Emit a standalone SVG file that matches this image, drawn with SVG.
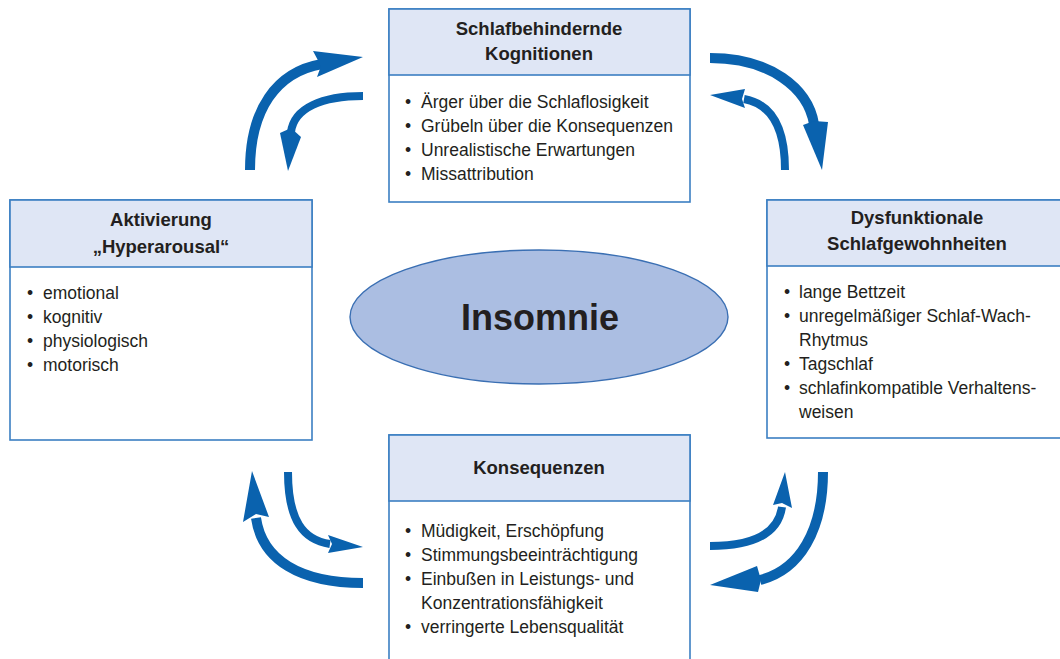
<svg xmlns="http://www.w3.org/2000/svg" width="1060" height="659" viewBox="0 0 1060 659">
<style>
.box{fill:#ffffff;stroke:#3b7fc2;stroke-width:1.6}
.hdr{fill:#dfe6f5;stroke:#3b7fc2;stroke-width:1.6}
.h{font-family:"Liberation Sans",Arial,sans-serif;font-weight:bold;font-size:18.5px;fill:#231f20;text-anchor:middle}
.t{font-family:"Liberation Sans",Arial,sans-serif;font-size:17.5px;fill:#231f20}
.shaft{fill:none;stroke:#0a62ae;stroke-width:10}
.shaft2{fill:none;stroke:#0a62ae;stroke-width:8}
.head{fill:#0a62ae}
</style>
<rect width="1060" height="659" fill="#ffffff"/>

<g id="connectors">
  <!-- top-left outer -->
  <path class="shaft" d="M 250 170 C 250 110 276 72 322 64"/>
  <polygon class="head" points="313,51 363,57 317,77 321,66"/>
  <!-- top-left inner -->
  <path class="shaft2" d="M 363 96 C 322 96 294 108 291 132"/>
  <polygon class="head" points="280,133 291,128 301,137 288,171"/>
  <!-- top-right outer -->
  <path class="shaft" d="M 710 58 C 770 58 808 88 814 124"/>
  <polygon class="head" points="803,125 814,121 828,122 822,170"/>
  <!-- top-right inner -->
  <path class="shaft2" d="M 785 170 C 785 128 772 104 744 99"/>
  <polygon class="head" points="710,95 745,89 742,99 745,108"/>
  <!-- bottom-left outer -->
  <path class="shaft" d="M 363 583 C 300 583 262 560 256 518"/>
  <polygon class="head" points="252,471 269,517 256,514 243,522"/>
  <!-- bottom-left inner -->
  <path class="shaft2" d="M 288 472 C 288 520 303 540 330 544"/>
  <polygon class="head" points="328,535 363,547 328,553 332,544"/>
  <!-- bottom-right outer -->
  <path class="shaft" d="M 823 472 C 823 530 800 570 760 580"/>
  <polygon class="head" points="757,566 761,580 758,592 710,585"/>
  <!-- bottom-right inner -->
  <path class="shaft2" d="M 710 546 C 750 546 778 535 782 507"/>
  <polygon class="head" points="785,472 792,508 782,503 773,505"/>
</g>

<g id="node-top">
  <rect class="box" x="389" y="9" width="301" height="193"/>
  <rect class="hdr" x="389" y="9" width="301" height="66"/>
  <text class="h" x="539" y="35">Schlafbehindernde</text>
  <text class="h" x="539" y="60">Kognitionen</text>
  <text class="t" x="405" y="108">•</text><text class="t" x="421" y="108">Ärger über die Schlaflosigkeit</text>
  <text class="t" x="405" y="132">•</text><text class="t" x="421" y="132">Grübeln über die Konsequenzen</text>
  <text class="t" x="405" y="156">•</text><text class="t" x="421" y="156">Unrealistische Erwartungen</text>
  <text class="t" x="405" y="180">•</text><text class="t" x="421" y="180">Missattribution</text>
</g>

<g id="node-left">
  <rect class="box" x="10" y="200" width="302" height="240"/>
  <rect class="hdr" x="10" y="200" width="302" height="67"/>
  <text class="h" x="161" y="226">Aktivierung</text>
  <text class="h" x="161" y="253">„Hyperarousal“</text>
  <text class="t" x="27" y="299">•</text><text class="t" x="43" y="299">emotional</text>
  <text class="t" x="27" y="323">•</text><text class="t" x="43" y="323">kognitiv</text>
  <text class="t" x="27" y="347">•</text><text class="t" x="43" y="347">physiologisch</text>
  <text class="t" x="27" y="371">•</text><text class="t" x="43" y="371">motorisch</text>
</g>

<g id="node-right">
  <rect class="box" x="767" y="200" width="310" height="238"/>
  <rect class="hdr" x="767" y="200" width="310" height="66"/>
  <text class="h" x="917" y="224">Dysfunktionale</text>
  <text class="h" x="917" y="250">Schlafgewohnheiten</text>
  <text class="t" x="784" y="298">•</text><text class="t" x="799" y="298">lange Bettzeit</text>
  <text class="t" x="784" y="322">•</text><text class="t" x="799" y="322">unregelmäßiger Schlaf-Wach-</text>
  <text class="t" x="799" y="346">Rhytmus</text>
  <text class="t" x="784" y="370">•</text><text class="t" x="799" y="370">Tagschlaf</text>
  <text class="t" x="784" y="394">•</text><text class="t" x="799" y="394">schlafinkompatible Verhaltens-</text>
  <text class="t" x="799" y="418">weisen</text>
</g>

<g id="node-bottom">
  <rect class="box" x="389" y="435" width="301" height="240"/>
  <rect class="hdr" x="389" y="435" width="301" height="66"/>
  <text class="h" x="539" y="474">Konsequenzen</text>
  <text class="t" x="405" y="537">•</text><text class="t" x="421" y="537">Müdigkeit, Erschöpfung</text>
  <text class="t" x="405" y="561">•</text><text class="t" x="421" y="561">Stimmungsbeeinträchtigung</text>
  <text class="t" x="405" y="585">•</text><text class="t" x="421" y="585">Einbußen in Leistungs- und</text>
  <text class="t" x="421" y="609">Konzentrationsfähigkeit</text>
  <text class="t" x="405" y="633">•</text><text class="t" x="421" y="633">verringerte Lebensqualität</text>
</g>

<g id="node-center">
  <ellipse cx="539" cy="317" rx="189" ry="67" fill="#abbee2" stroke="#3a6fb3" stroke-width="1.4"/>
  <text x="540" y="330" font-family="'Liberation Sans',Arial,sans-serif" font-weight="bold" font-size="36" fill="#231f20" text-anchor="middle">Insomnie</text>
</g>
</svg>
